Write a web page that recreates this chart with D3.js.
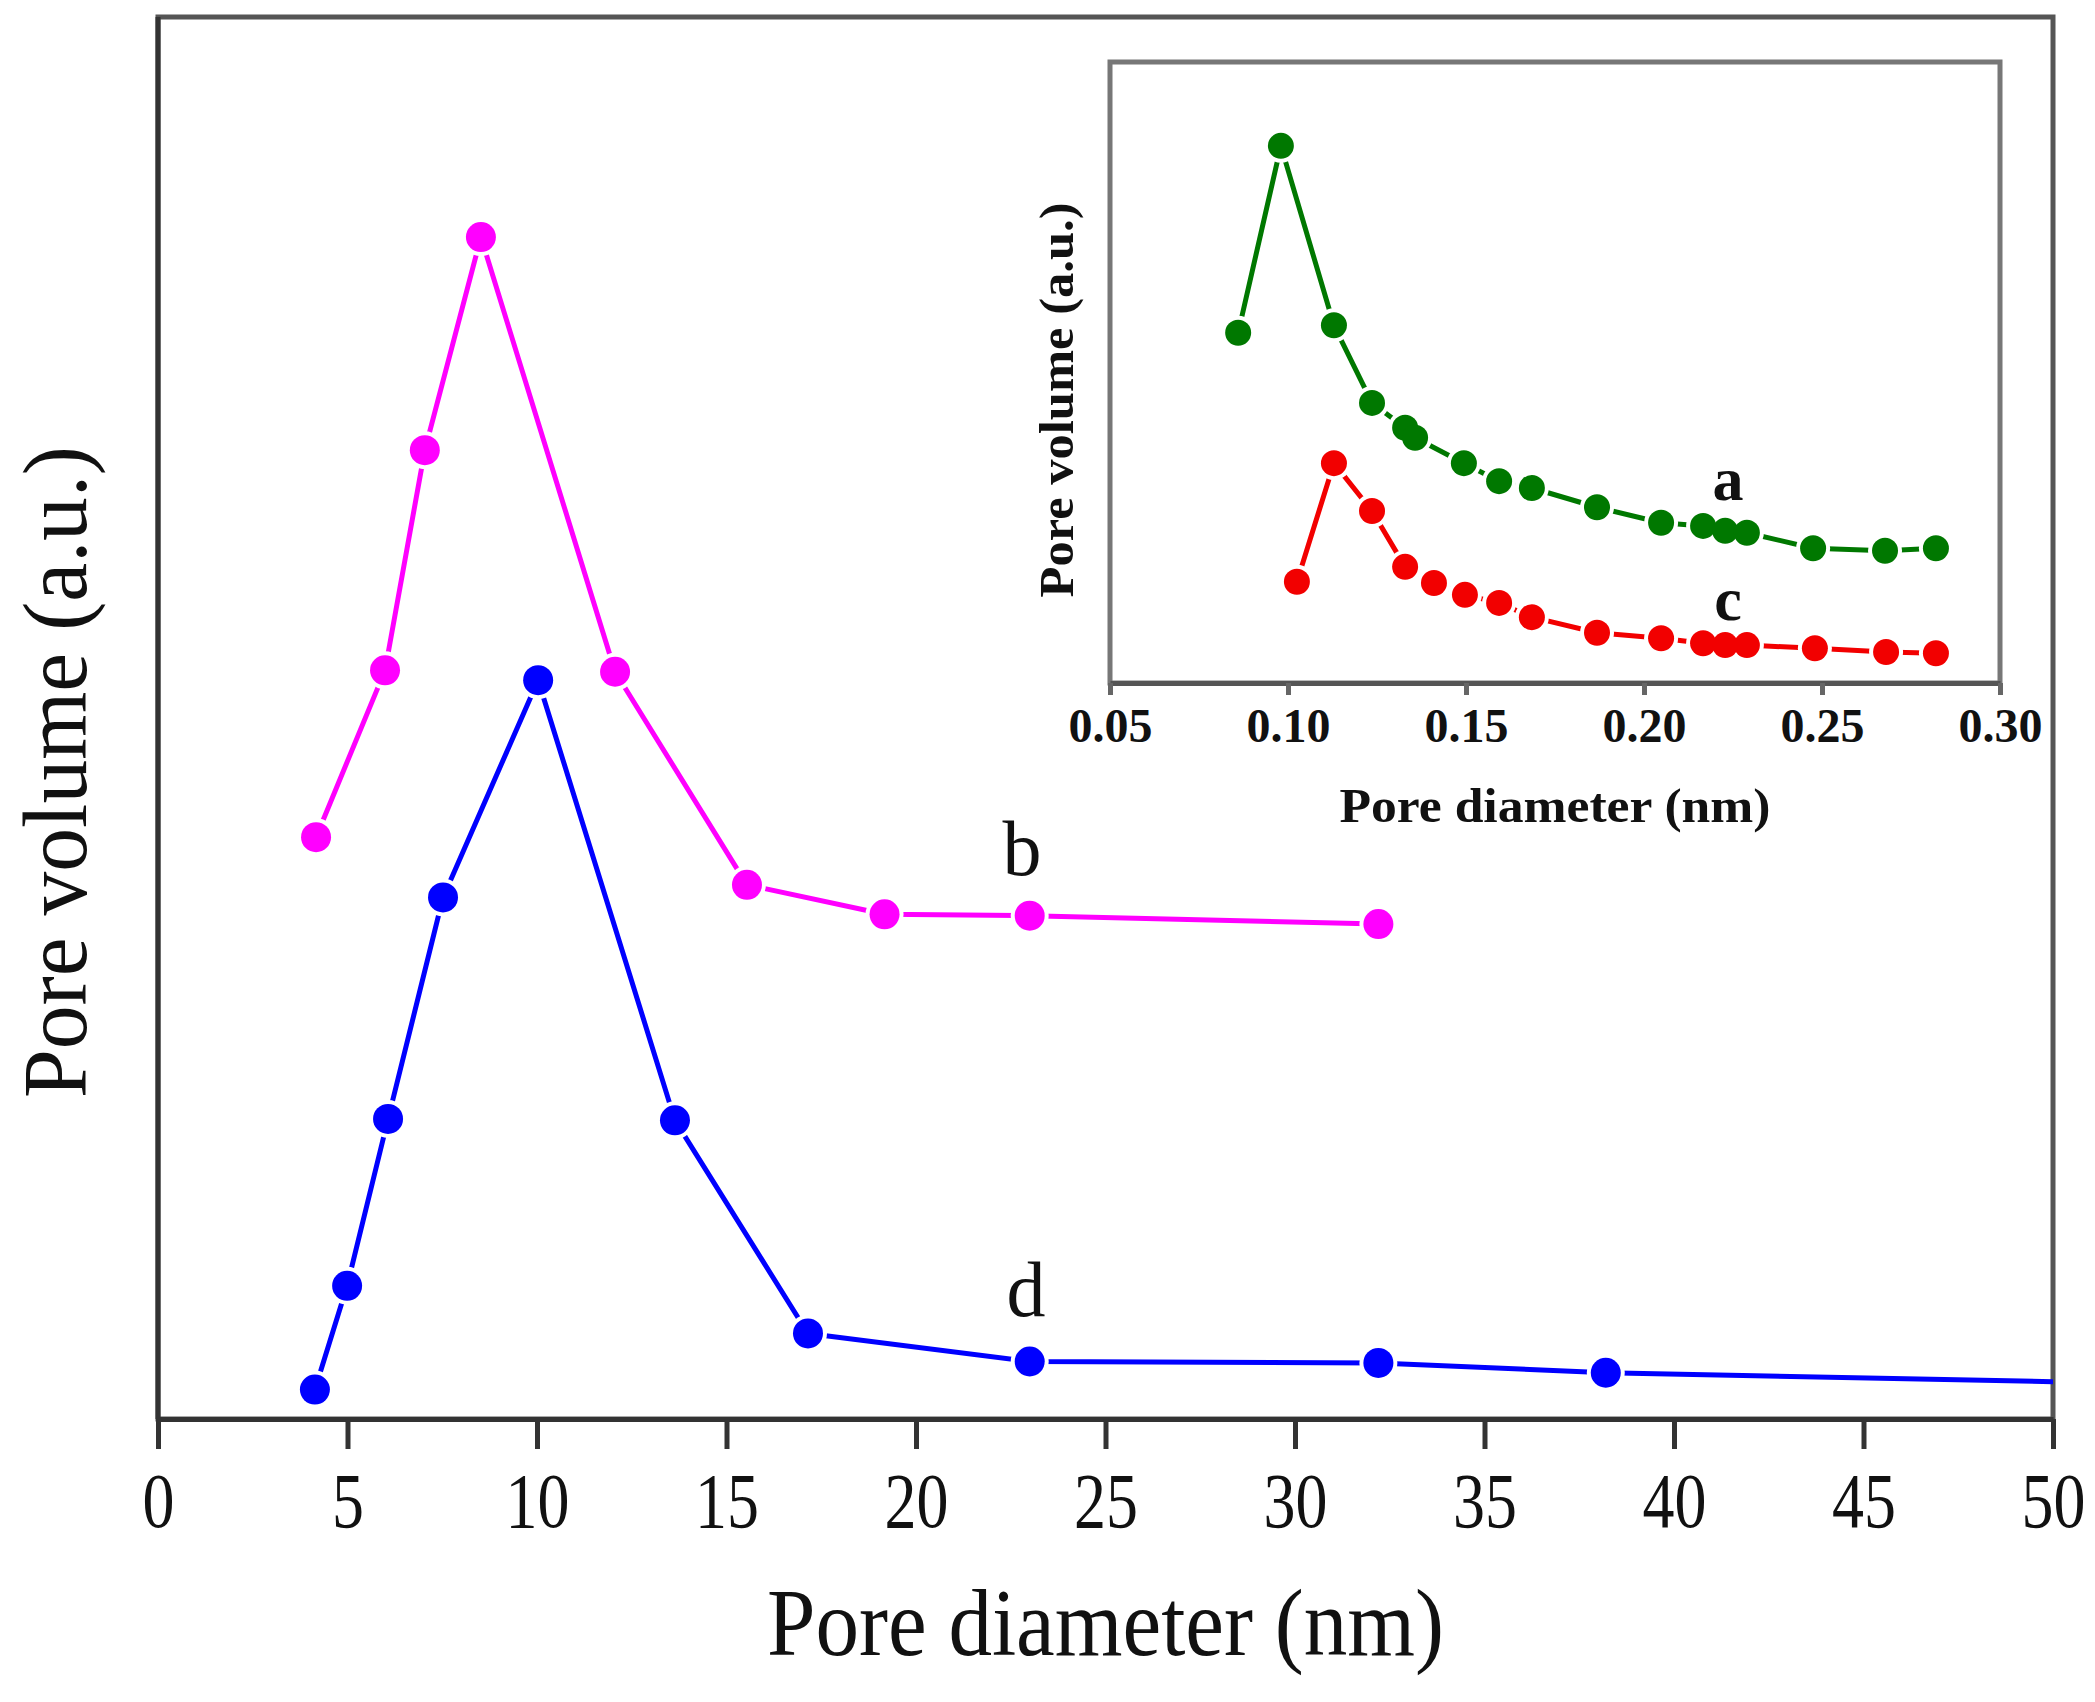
<!DOCTYPE html>
<html>
<head>
<meta charset="utf-8">
<script src="https://cdn.jsdelivr.net/npm/d3@7"></script>
<style>
  body { margin: 0; background: #fff; }
  text { font-family: "Liberation Serif", "Times New Roman", serif; }
</style>
</head>
<body>
<script>
// main plot: pore size distribution (nm)
const mainTicks = [0, 5, 10, 15, 20, 25, 30, 35, 40, 45, 50];
const bX = [4.17, 5.99, 7.04, 8.52, 12.06, 15.54, 19.17, 23.0, 32.2];
const bY = [41.5, 53.4, 69.1, 84.3, 53.3, 38.1, 36.0, 35.9, 35.3];
const dX = [4.14, 4.99, 6.07, 7.52, 10.03, 13.64, 17.15, 23.0, 32.2, 38.2, 53];
const dY = [2.1, 9.5, 21.4, 37.2, 52.7, 21.3, 6.1, 4.1, 4.0, 3.3, 2.5];
const mainLabels = [{t: 'b', x: 22.8, y: 38.8}, {t: 'd', x: 22.9, y: 7.35}];

// inset: sub-nm pores
const insetTicks = [0.05, 0.10, 0.15, 0.20, 0.25, 0.30];
const aX = [0.0860, 0.0980, 0.1129, 0.1236, 0.1329, 0.1357, 0.1494, 0.1593, 0.1685,
            0.1868, 0.2048, 0.2166, 0.2228, 0.2289, 0.2475, 0.2677, 0.2820];
const aY = [56.4, 86.5, 57.6, 45.1, 41.1, 39.5, 35.4, 32.5, 31.4,
            28.3, 25.8, 25.3, 24.5, 24.2, 21.7, 21.3, 21.7];
const cX = [0.1025, 0.1129, 0.1236, 0.1329, 0.1410, 0.1497, 0.1593, 0.1685,
            0.1868, 0.2048, 0.2166, 0.2228, 0.2289, 0.2480, 0.2680, 0.2820];
const cY = [16.3, 35.4, 27.7, 18.7, 16.1, 14.2, 12.9, 10.6,
            8.1, 7.2, 6.4, 6.1, 6.1, 5.6, 5.0, 4.8];
const insetLabels = [{t: 'a', x: 0.2236, y: 29.5}, {t: 'c', x: 0.2236, y: 10.1}];

const W = 2095, H = 1702;
const svg = d3.select('body').append('svg')
    .attr('width', W)
    .attr('height', H);

const x = d3.scaleLinear().domain([0, 50]).range([158, 2053]);
const y = d3.scaleLinear().domain([0, 100]).range([1419, 17]);

const ix = d3.scaleLinear().domain([0.05, 0.30]).range([1110, 2000]);
const iy = d3.scaleLinear().domain([0, 100]).range([683, 62]);

const zip = (xs, ys) => xs.map((v, i) => ({x: v, y: ys[i]}));

svg.append('defs').append('clipPath').attr('id', 'clipMain')
  .append('rect')
    .attr('x', x(0)).attr('y', y(100))
    .attr('width', x(50) - x(0)).attr('height', y(0) - y(100));

function drawSeries(g, data, sx, sy, color, r, lw) {
    const line = d3.line().x(d => sx(d.x)).y(d => sy(d.y));
    g.append('path')
        .datum(data)
        .attr('d', line)
        .attr('fill', 'none')
        .attr('stroke', color)
        .attr('stroke-width', lw)
        .attr('stroke-linejoin', 'round');
    // white halo so the line stops short of each symbol
    g.selectAll(null).data(data).enter().append('circle')
        .attr('cx', d => sx(d.x)).attr('cy', d => sy(d.y))
        .attr('r', r + 4)
        .attr('fill', '#fff');
    g.selectAll(null).data(data).enter().append('circle')
        .attr('cx', d => sx(d.x)).attr('cy', d => sy(d.y))
        .attr('r', r)
        .attr('fill', color);
}

// ---- main frame + axis
svg.append('rect')
    .attr('x', x(0)).attr('y', y(100))
    .attr('width', x(50) - x(0)).attr('height', y(0) - y(100))
    .attr('fill', 'none')
    .attr('stroke', '#555')
    .attr('stroke-width', 5);

const xAxis = d3.axisBottom(x).tickValues(mainTicks).tickSize(30).tickSizeOuter(0);
const gx = svg.append('g')
    .attr('transform', 'translate(0,' + y(0) + ')')
    .call(xAxis);
gx.select('.domain').attr('stroke', '#333').attr('stroke-width', 5);
gx.selectAll('.tick line').attr('stroke', '#333').attr('stroke-width', 5);
gx.selectAll('.tick text')
    .attr('y', 108).attr('dy', 0)
    .attr('fill', '#111')
    .style('font-size', '78px')
    .attr('transform', 'scale(0.82,1)');

svg.append('line')
    .attr('x1', x(0)).attr('x2', x(0))
    .attr('y1', y(100)).attr('y2', y(0))
    .attr('stroke', '#333').attr('stroke-width', 5);

const gMain = svg.append('g').attr('clip-path', 'url(#clipMain)');
drawSeries(gMain, zip(bX, bY), x, y, '#ff00ff', 15, 5);
drawSeries(gMain, zip(dX, dY), x, y, '#0000ff', 15, 5);

svg.selectAll('.mlab').data(mainLabels).enter().append('text')
    .attr('class', 'mlab')
    .attr('x', d => x(d.x)).attr('y', d => y(d.y))
    .attr('text-anchor', 'middle')
    .style('font-size', '78px')
    .attr('fill', '#111')
    .text(d => d.t);

svg.append('text')
    .attr('x', (x(0) + x(50)) / 2).attr('y', 1655)
    .attr('text-anchor', 'middle')
    .attr('textLength', 677).attr('lengthAdjust', 'spacingAndGlyphs')
    .style('font-size', '96px')
    .attr('fill', '#111')
    .text('Pore diameter (nm)');

svg.append('text')
    .attr('transform', 'translate(86,772) rotate(-90)')
    .attr('text-anchor', 'middle')
    .attr('textLength', 652).attr('lengthAdjust', 'spacingAndGlyphs')
    .style('font-size', '90px')
    .attr('fill', '#111')
    .text('Pore volume (a.u.)');

// ---- inset
svg.append('rect')
    .attr('x', ix(0.05)).attr('y', iy(100))
    .attr('width', ix(0.30) - ix(0.05)).attr('height', iy(0) - iy(100))
    .attr('fill', '#fff')
    .attr('stroke', '#777')
    .attr('stroke-width', 5);

const ixAxis = d3.axisBottom(ix).tickValues(insetTicks).tickFormat(d3.format('.2f'))
    .tickSize(12).tickSizeOuter(0);
const gix = svg.append('g')
    .attr('transform', 'translate(0,' + iy(0) + ')')
    .call(ixAxis);
gix.select('.domain').attr('stroke', '#555').attr('stroke-width', 5);
gix.selectAll('.tick line').attr('stroke', '#666').attr('stroke-width', 5);
gix.selectAll('.tick text')
    .attr('y', 59).attr('dy', 0)
    .attr('fill', '#111')
    .style('font-size', '48px')
    .style('font-weight', 'bold');

const gInset = svg.append('g');
drawSeries(gInset, zip(aX, aY), ix, iy, '#007800', 13, 5);
drawSeries(gInset, zip(cX, cY), ix, iy, '#f20000', 13, 5);

svg.selectAll('.ilab').data(insetLabels).enter().append('text')
    .attr('class', 'ilab')
    .attr('x', d => ix(d.x)).attr('y', d => iy(d.y))
    .attr('text-anchor', 'middle')
    .style('font-size', '62px')
    .style('font-weight', 'bold')
    .attr('fill', '#111')
    .text(d => d.t);

svg.append('text')
    .attr('x', (ix(0.05) + ix(0.30)) / 2).attr('y', 822)
    .attr('text-anchor', 'middle')
    .attr('textLength', 431).attr('lengthAdjust', 'spacingAndGlyphs')
    .style('font-size', '48px')
    .style('font-weight', 'bold')
    .attr('fill', '#111')
    .text('Pore diameter (nm)');

svg.append('text')
    .attr('transform', 'translate(1073,400) rotate(-90)')
    .attr('text-anchor', 'middle')
    .attr('textLength', 395).attr('lengthAdjust', 'spacingAndGlyphs')
    .style('font-size', '48px')
    .style('font-weight', 'bold')
    .attr('fill', '#111')
    .text('Pore volume (a.u.)');
</script>
</body>
</html>
